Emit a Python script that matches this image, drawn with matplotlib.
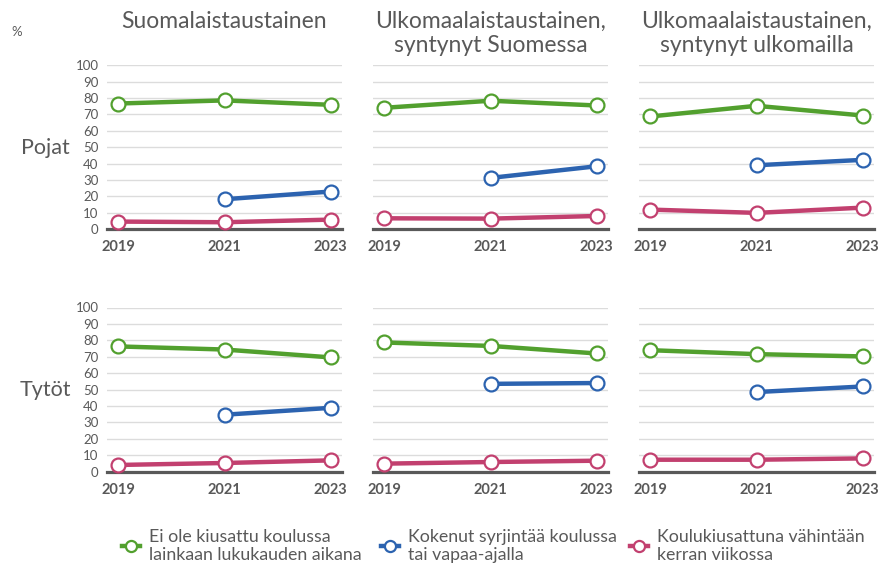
import numpy as np
import matplotlib
matplotlib.use("Agg")
import matplotlib.pyplot as plt
from matplotlib.lines import Line2D

plt.rcParams['font.family'] = ['Lato', 'DejaVu Sans']

years = [2019, 2021, 2023]
nan = np.nan

titles = ["Suomalaistaustainen",
          "Ulkomaalaistaustainen,\nsyntynyt Suomessa",
          "Ulkomaalaistaustainen,\nsyntynyt ulkomailla"]
rows = ["Pojat", "Tytöt"]
series_labels = ["Ei ole kiusattu koulussa\nlainkaan lukukauden aikana",
                 "Kokenut syrjintää koulussa\ntai vapaa-ajalla",
                 "Koulukiusattuna vähintään\nkerran viikossa"]

# boys, one list per panel
ei_kiusattu_pojat = [[76.6, 78.5, 75.8], [74.0, 78.3, 75.4], [68.7, 75.2, 69.3]]
syrjinta_pojat = [[nan, 18.3, 23.0], [nan, 31.3, 38.4], [nan, 39.0, 42.3]]
kiusattu_pojat = [[4.7, 4.3, 5.9], [6.7, 6.5, 8.1], [12.0, 10.0, 13.2]]

# girls
ei_kiusattu_tytot = [[76.3, 74.4, 69.6], [78.7, 76.6, 72.0], [74.0, 71.6, 70.2]]
syrjinta_tytot = [[nan, 34.7, 38.9], [nan, 53.5, 54.0], [nan, 48.5, 51.9]]
kiusattu_tytot = [[4.1, 5.3, 6.9], [4.9, 5.9, 6.7], [7.3, 7.3, 8.1]]

colors = ['#52a02e', '#2c63b0', '#c2406f']
gray = '#595959'

data = [[ei_kiusattu_pojat, syrjinta_pojat, kiusattu_pojat],
        [ei_kiusattu_tytot, syrjinta_tytot, kiusattu_tytot]]

W, H = 881, 566
fig = plt.figure(figsize=(W / 100, H / 100), dpi=100)

lefts = [107, 373, 639]
width = 235
bottoms = [229.3, 471.7]
height = 164.2

for r in range(2):
    for c in range(3):
        ax = fig.add_axes([lefts[c] / W, 1 - bottoms[r] / H, width / W, height / H])
        for s in range(3):
            ax.plot(years, data[r][s][c], color=colors[s], lw=3.2,
                    marker='o', ms=10, mfc='white', mec=colors[s], mew=1.6,
                    clip_on=False, zorder=3 + s)
        ax.set_xlim(2018.79, 2023.21)
        ax.set_ylim(0, 100)
        ax.set_yticks(range(0, 101, 10))
        ax.set_xticks(years)
        ax.grid(axis='y', color='#dcdcdc', lw=1)
        ax.set_axisbelow(True)
        for sp in ['top', 'right', 'left']:
            ax.spines[sp].set_visible(False)
        ax.spines['bottom'].set_color(gray)
        ax.spines['bottom'].set_linewidth(2.3)
        ax.spines['bottom'].set_zorder(2.5)
        ax.tick_params(length=0, colors=gray)
        ax.tick_params(axis='x', labelsize=10.5, pad=8)
        for lab in ax.get_xticklabels():
            lab.set_fontweight('bold')
        if c == 0:
            ax.tick_params(axis='y', labelsize=9.5, pad=6)
        else:
            ax.set_yticklabels([])

# panel titles
for c in range(3):
    fig.text((lefts[c] + width / 2) / W, 1 - 11 / H, titles[c], ha='center', va='top',
             fontsize=16.5, color=gray, linespacing=1.2)

fig.text(45 / W, 1 - 148 / H, rows[0], ha='center', va='center', fontsize=15.5, color=gray)
fig.text(45 / W, 1 - 390 / H, rows[1], ha='center', va='center', fontsize=15.5, color=gray)
fig.text(17 / W, 1 - 32 / H, "%", ha='center', va='center', fontsize=9.5, color=gray)

# legend, one block per series
leg_x = [122, 381, 630]
for s in range(3):
    h = Line2D([], [], color=colors[s], lw=3.2, marker='o', ms=8, mfc='white',
               mec=colors[s], mew=1.6)
    leg = fig.legend([h], [series_labels[s]], loc='upper left',
                     bbox_to_anchor=(leg_x[s] / W, 1 - 529 / H), frameon=False,
                     fontsize=12.8, handlelength=1.0, handletextpad=0.5,
                     labelcolor=gray, borderaxespad=0, borderpad=0, labelspacing=0)
    for t in leg.get_texts():
        t.set_linespacing(1.15)

fig.savefig("out.png", dpi=100)
